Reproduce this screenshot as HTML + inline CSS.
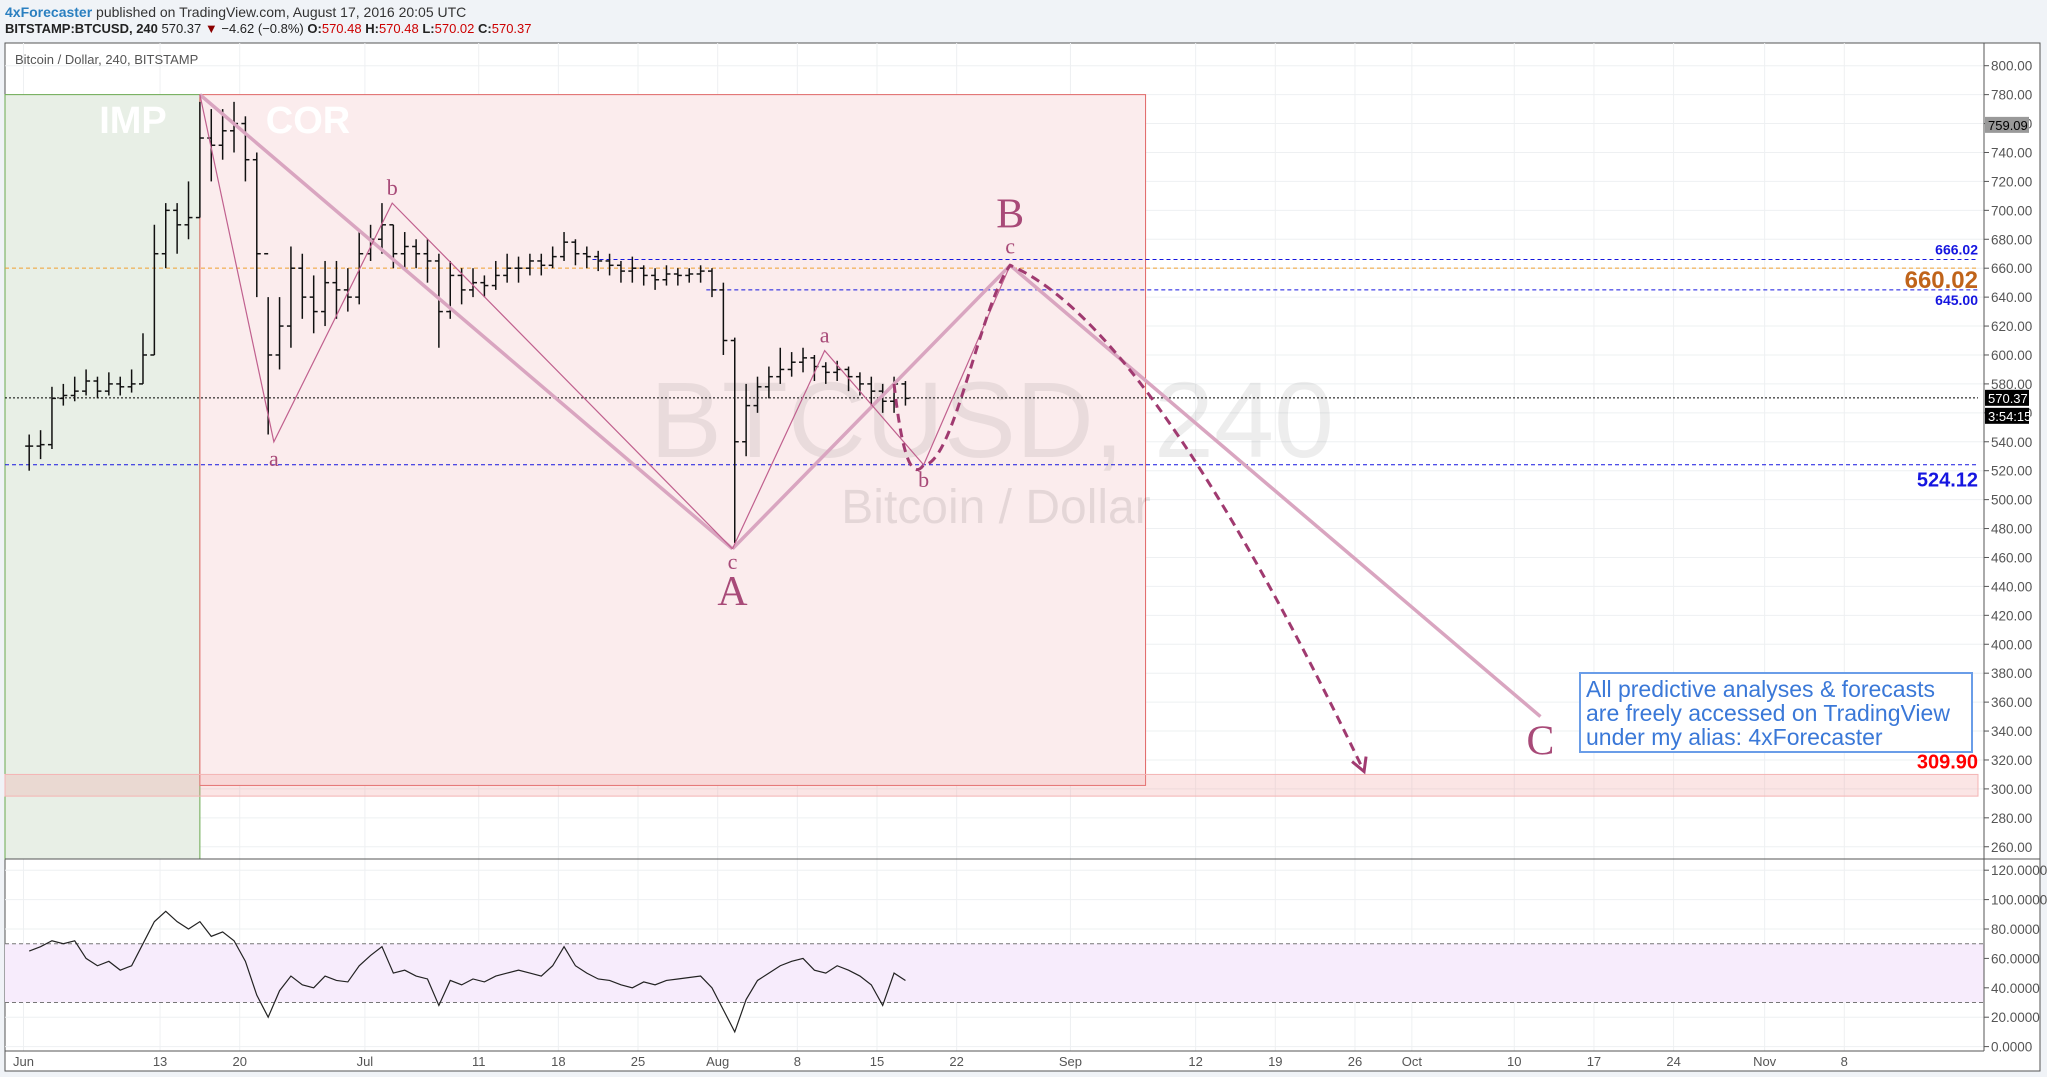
<!DOCTYPE html>
<html><head><meta charset="utf-8"><style>
body{margin:0;background:#f0f3f7;font-family:"Liberation Sans",sans-serif;}
svg{display:block}
</style></head><body>
<svg id="c" width="2047" height="1077" viewBox="0 0 2047 1077" xmlns="http://www.w3.org/2000/svg" font-family="Liberation Sans, sans-serif">
<rect x="0" y="0" width="2047" height="1077" fill="#f0f3f7"/>
<text x="5" y="17" font-size="14"><tspan fill="#2a7fc0" font-weight="bold">4xForecaster</tspan><tspan fill="#333"> published on TradingView.com, August 17, 2016 20:05 UTC</tspan></text>
<text x="5" y="33" font-size="13" fill="#222"><tspan font-weight="bold">BITSTAMP:BTCUSD, 240</tspan> 570.37 <tspan fill="#8b0000">▼</tspan> −4.62 (−0.8%) <tspan font-weight="bold">O:</tspan><tspan fill="#c00">570.48</tspan> <tspan font-weight="bold">H:</tspan><tspan fill="#c00">570.48</tspan> <tspan font-weight="bold">L:</tspan><tspan fill="#c00">570.02</tspan> <tspan font-weight="bold">C:</tspan><tspan fill="#c00">570.37</tspan></text>
<rect x="5" y="43" width="2035" height="1028" fill="#fff" stroke="#555" stroke-width="1"/>
<g id="grid"></g><g id="zones"></g><g id="bars"></g><g id="draw"></g><g id="axes"></g>
</svg>
<script>
const closes=[537,538,570,572,575,582,575,580,578,580,600,670,700,690,695,750,745,755,760,735,670,600,620,660,640,630,650,645,640,670,
680,690,670,675,670,665,630,655,645,650,648,655,660,660,665,662,668,678,670,668,665,662,658,660,655,652,656,655,656,658,645,
610,540,565,578,585,590,595,598,592,588,590,585,580,575,568,580,570];
const highs=[545,548,578,580,585,590,585,588,585,590,615,690,705,705,720,775,770,770,775,765,740,640,640,675,670,655,665,665,660,685,
690,705,690,685,680,680,670,665,660,660,655,665,670,668,670,670,675,685,680,675,672,670,665,668,662,660,662,660,660,662,660,
650,612,580,585,592,605,602,605,600,595,596,592,588,585,580,585,582];
const lows=[520,528,535,565,568,572,570,572,572,574,580,600,660,670,680,695,720,735,740,720,640,545,590,605,625,615,620,625,630,635,
665,670,660,660,660,650,605,625,635,640,640,645,650,650,655,655,660,665,662,660,658,655,650,650,648,645,648,648,650,650,640,
600,470,530,560,570,580,585,588,582,580,582,575,572,565,560,560,565];
const rsi=[65,68,72,70,72,60,55,58,52,55,70,85,92,85,80,85,75,78,72,58,35,20,38,48,42,40,48,45,44,55,
62,68,50,52,48,46,28,45,42,46,44,48,50,52,50,48,55,68,55,50,46,45,42,40,44,42,45,46,47,48,40,
25,10,32,45,50,55,58,60,52,50,55,52,48,42,28,50,45];
const timeLabels=["Jun","13","20","Jul","11","18","25","Aug","8","15","22","Sep","12","19","26","Oct","10","17","24","Nov","8"];
const timeDays=[0,12,19,30,40,47,54,61,68,75,82,92,103,110,117,122,131,138,145,153,160];
const priceTicks=[800,780,760,740,720,700,680,660,640,620,600,580,560,540,520,500,480,460,440,420,400,380,360,340,320,300,280,260];
const rsiTicks=[120,100,80,60,40,20,0];
const levels=[666.02,660.02,645.00,570.37,524.12];
const waveA=[[15.5,780],[62.3,466]], waveB=[[62.3,466],[86.7,662]], waveC=[[86.7,662],[133.3,350]];
const subA=[[15.5,780],[22,540],[32.4,705],[62.3,466]];
const subB=[[62.3,466],[70.4,603],[79.1,524],[86.7,662]];

const X=d=>23.5+d*11.38;
const Y=p=>65.7+(800-p)*1.4464;
const R=v=>1046.6-v*1.47;
const NS="http://www.w3.org/2000/svg";
function mk(parent,tag,at,txt){const e=document.createElementNS(NS,tag);for(const k in at)e.setAttribute(k,at[k]);if(txt!==undefined)e.textContent=txt;document.getElementById(parent).appendChild(e);return e;}
const PL=5, PR=1984;
timeDays.forEach((d,i)=>{const g=mk('grid','line',{x1:X(d),x2:X(d),y1:43,y2:1051,stroke:'#eef0f2'});


const t=mk('axes','text',{x:X(d),y:1066,'font-size':13,fill:'#555','text-anchor':'middle'},timeLabels[i]);

});
priceTicks.forEach(p=>{const g=mk('grid','line',{x1:PL,x2:PR,y1:Y(p),y2:Y(p),stroke:'#eef0f2'});


mk('axes','line',{x1:PR,x2:PR+5,y1:Y(p),y2:Y(p),stroke:'#555'});
const t=mk('axes','text',{x:PR+7,y:Y(p)+5,'font-size':13.5,fill:'#555'},p.toFixed(2));

});
rsiTicks.forEach(v=>{const g=mk('grid','line',{x1:PL,x2:PR,y1:R(v),y2:R(v),stroke:'#eef0f2'});


mk('axes','line',{x1:PR,x2:PR+5,y1:R(v),y2:R(v),stroke:'#555'});
const t=mk('axes','text',{x:PR+7,y:R(v)+5,'font-size':13.5,fill:'#555'},v.toFixed(4));

});
let z=mk('zones','rect',{x:PL,y:Y(780),width:X(15.5)-PL,height:859-Y(780),fill:'#e8efe6',stroke:'#6aa84f'});


z=mk('zones','rect',{x:X(15.5),y:Y(780),width:X(98.6)-X(15.5),height:Y(302.4)-Y(780),fill:'#fbeced',stroke:'#e06666'});


z=mk('zones','rect',{x:PL,y:Y(310),width:PR-PL-6,height:Y(295)-Y(310),fill:'rgba(240,150,150,0.25)',stroke:'#f4b4b4'});


z=mk('zones','rect',{x:PL,y:R(70),width:PR-PL,height:R(30)-R(70),fill:'#f7ecfc'});


[70,30].forEach(v=>{const l=mk('zones','line',{x1:PL,x2:PR,y1:R(v),y2:R(v),stroke:'#777','stroke-dasharray':'4,3'});

});
let t;
t=mk('zones','text',{x:133,y:133,'font-size':38,'font-weight':'bold',fill:'#fff','text-anchor':'middle'},'IMP');


t=mk('zones','text',{x:308,y:133,'font-size':38,'font-weight':'bold',fill:'#fff','text-anchor':'middle'},'COR');


t=mk('zones','text',{x:992,y:457,'font-size':108,fill:'rgba(0,0,0,0.07)','text-anchor':'middle'},'BTCUSD, 240');


t=mk('zones','text',{x:996,y:523,'font-size':48,fill:'rgba(0,0,0,0.09)','text-anchor':'middle'},'Bitcoin / Dollar');


t=mk('zones','text',{x:15,y:64,'font-size':13,fill:'#555'},'Bitcoin / Dollar, 240, BITSTAMP');


const lvStyle=[['#1515e0','4,3',X(50)],['#f0a030','4,3',PL],['#1515e0','4,3',X(60)],['#000','2,2',PL],['#1515e0','4,3',PL]];
levels.forEach((p,i)=>{const l=mk('zones','line',{x1:lvStyle[i][2],x2:PR-6,y1:Y(p),y2:Y(p),stroke:lvStyle[i][0],'stroke-dasharray':lvStyle[i][1]});

});
closes.forEach((c,i)=>{const x=X(i+0.5);const o=i?closes[i-1]:c;
const b=mk('bars','line',{x1:x,x2:x,y1:Y(highs[i]),y2:Y(lows[i]),stroke:'#111','stroke-width':1.5});


mk('bars','line',{x1:x-4,x2:x,y1:Y(o),y2:Y(o),stroke:'#111','stroke-width':1.5});
mk('bars','line',{x1:x,x2:x+4,y1:Y(c),y2:Y(c),stroke:'#111','stroke-width':1.5});});
let pts=rsi.map((v,i)=>X(i+0.5)+','+R(v)).join(' ');
let rl=mk('bars','polyline',{points:pts,fill:'none',stroke:'#222','stroke-width':1.2});


const P=a=>[X(a[0]),Y(a[1])];
[waveA,waveB,waveC].forEach(w=>{const a=P(w[0]),b=P(w[1]);
const l=mk('draw','line',{x1:a[0],y1:a[1],x2:b[0],y2:b[1],stroke:'#d9a5c0','stroke-width':3.5});

});
[subA,subB].forEach(s=>{const l=mk('draw','polyline',{points:s.map(q=>P(q).join(',')).join(' '),fill:'none',stroke:'#c0608e','stroke-width':1.2});

});
const bb=P(subB[2]),cc=P(subB[3]),st=P([76.5,580]),end=P([117.8,312]);
let dp=mk('draw','path',{d:`M${st[0]},${st[1]} Q${bb[0]-18},${bb[1]+25} ${bb[0]},${bb[1]} C${bb[0]+30},${bb[1]} ${cc[0]-30},${cc[1]+40} ${cc[0]},${cc[1]} Q${cc[0]+140},${cc[1]+60} ${end[0]},${end[1]}`,fill:'none',stroke:'#a03a70','stroke-width':3,'stroke-dasharray':'9,6'});


let ah=mk('draw','path',{d:`M${end[0]-12},${end[1]-10} L${end[0]},${end[1]} L${end[0]+2},${end[1]-15}`,fill:'none',stroke:'#a03a70','stroke-width':3});


const labs=[['a',22,540,24,20],['b',32.4,705,-8,20],['c',62.3,466,20,20],['A',62.3,466,56,38],['a',70.4,603,-8,20],['b',79.1,524,22,20],['c',86.7,662,-12,20],['B',86.7,662,-38,38],['C',133.3,350,38,38]];
labs.forEach(l=>{const e=mk('draw','text',{x:X(l[1]),y:Y(l[2])+l[3],'font-size':l[4]*1.1,'font-family':'Liberation Serif, serif',fill:'#a84a78','text-anchor':'middle'},l[0]);

});
const lvLab=[['666.02',Y(666.02)-5,14,'#1515e0'],['660.02',Y(660.02)+20,24,'#c0641a'],['645.00',Y(645)+15,14,'#1515e0'],['524.12',Y(524.12)+22,20,'#1515e0'],['309.90',Y(309.9)-6,20,'#f00']];
lvLab.forEach(l=>{const e=mk('draw','text',{x:1978,y:l[1],'font-size':l[2],'font-weight':'bold',fill:l[3],'text-anchor':'end'},l[0]);

});
let nb=mk('draw','rect',{x:1580,y:673,width:392,height:79,fill:'#fff',stroke:'#6a9de8','stroke-width':2});


['All predictive analyses & forecasts','are freely accessed on TradingView','under my alias: 4xForecaster'].forEach((s,i)=>{const e=mk('draw','text',{x:1586,y:697+i*24,'font-size':23,fill:'#3a78d8'},s);

});
[[PR,43,PR,1051],[PL,859,2040,859],[PL,1051,PR,1051]].forEach(a=>{const l=mk('axes','line',{x1:a[0],y1:a[1],x2:a[2],y2:a[3],stroke:'#555'});

});
const boxes=[['759.09',Y(759.09),'#999','#000'],['570.37',Y(570.37),'#000','#fff'],['3:54:15',Y(570.37)+18,'#000','#fff']];
boxes.forEach(b=>{const r=mk('axes','rect',{x:PR+1,y:b[1]-8,width:44,height:16,fill:b[2]});


const e=mk('axes','text',{x:PR+4,y:b[1]+5,'font-size':13,fill:b[3]},b[0]);

});
</script>
</body></html>
